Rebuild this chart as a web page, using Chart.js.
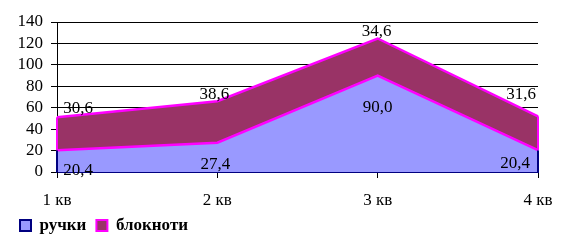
<!DOCTYPE html>
<html><head><meta charset="utf-8">
<script src="https://cdn.jsdelivr.net/npm/chart.js@4/dist/chart.umd.min.js"></script>
<style>html,body{margin:0;padding:0;background:#fff;}#wrap{width:571px;height:245px;}</style>
</head><body><div id="wrap"><canvas id="c" width="571" height="245"></canvas></div>
<script>
const categories = ['1 кв', '2 кв', '3 кв', '4 кв'];
const seriesNames = ['ручки', 'блокноти'];
const pens = [20.4, 27.4, 90.0, 20.4];
const notebooks = [30.6, 38.6, 34.6, 31.6];
const yTicks = [0, 20, 40, 60, 80, 100, 120, 140];

const FONT = "'Liberation Serif', 'Times New Roman', serif";
const fmt = v => v.toFixed(1).replace('.', ',');

// label offsets (pixels) relative to the point of each series
const labelOffsets = [
  [[21, 20], [-2, 22], [0, 32], [-23, 13]],
  [[21, -9], [-3, -7], [-1, -7], [-17, -22]]
];
const legendStroke = ['#000080', '#FF00FF'];

const labelPlugin = {
  id: 'valueLabels',
  afterDatasetsDraw(chart) {
    const ctx = chart.ctx;
    ctx.save();
    const m0 = chart.getDatasetMeta(0).data, m1 = chart.getDatasetMeta(1).data;
    const base = chart.scales.y.getPixelForValue(0);
    [0, m0.length - 1].forEach(i => {
      ctx.lineWidth = 2;
      ctx.strokeStyle = '#000080';
      ctx.beginPath(); ctx.moveTo(m0[i].x, base); ctx.lineTo(m0[i].x, m0[i].y); ctx.stroke();
      ctx.strokeStyle = '#FF00FF';
      ctx.beginPath(); ctx.moveTo(m1[i].x, m0[i].y); ctx.lineTo(m1[i].x, m1[i].y); ctx.stroke();
    });
    ctx.font = '17px ' + FONT;
    ctx.fillStyle = '#000';
    ctx.textAlign = 'center';
    ctx.textBaseline = 'middle';
    chart.data.datasets.forEach((ds, di) => {
      chart.getDatasetMeta(di).data.forEach((el, i) => {
        const o = labelOffsets[di][i];
        ctx.fillText(fmt(ds.data[i]), el.x + o[0], el.y + o[1]);
      });
    });
    ctx.restore();
  }
};

new Chart(document.getElementById('c'), {
  type: 'line',
  data: {
    labels: categories,
    datasets: [
      { label: seriesNames[0], data: pens, backgroundColor: '#9999FF', borderColor: '#FF00FF', borderWidth: 2.5, fill: 'origin', pointRadius: 0, tension: 0 },
      { label: seriesNames[1], data: notebooks, backgroundColor: '#993366', borderColor: '#FF00FF', borderWidth: 2.5, fill: '-1', pointRadius: 0, tension: 0 }
    ]
  },
  options: {
    responsive: false,
    animation: false,
    layout: { padding: { left: 10, right: 33, top: 22, bottom: 1 } },
    plugins: {
      tooltip: { enabled: false },
      legend: {
        position: 'bottom',
        align: 'start',
        labels: {
          boxWidth: 11, boxHeight: 11, padding: 10,
          color: '#000',
          font: { family: FONT, size: 17, weight: 'bold' },
          generateLabels(chart) {
            return chart.data.datasets.map((ds, i) => ({
              text: ds.label, fillStyle: ds.backgroundColor, strokeStyle: legendStroke[i],
              lineWidth: 2, hidden: false, datasetIndex: i, fontColor: '#000'
            }));
          }
        }
      }
    },
    scales: {
      x: {
        offset: false,
        grid: { drawOnChartArea: false, drawTicks: true, tickLength: 6, color: '#000' },
        border: { color: '#000080', width: 2 },
        ticks: { color: '#000', font: { family: FONT, size: 17 }, padding: 12, maxRotation: 0, autoSkip: false },
        afterFit(s) { s.height = 35; }
      },
      y: {
        stacked: true,
        min: 0, max: 140,
        afterBuildTicks(s) { s.ticks = yTicks.map(v => ({ value: v })); },
        grid: { color: '#000', lineWidth: 1, tickLength: 6, drawTicks: true },
        border: { color: '#000', width: 1 },
        ticks: { color: '#000', font: { family: FONT, size: 17 }, padding: 8, autoSkip: false },
        afterFit(s) { s.width = 47; }
      }
    }
  },
  plugins: [labelPlugin]
});
</script>
</body></html>
